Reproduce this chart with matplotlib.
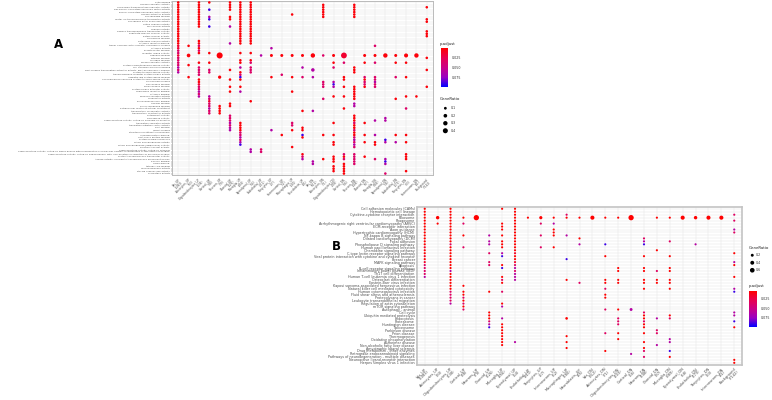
import numpy as np
import matplotlib
matplotlib.use("Agg")
import matplotlib.pyplot as plt
from matplotlib.colors import LinearSegmentedColormap, Normalize
from matplotlib.cm import ScalarMappable

# cluster columns (same for both panels)
x_labels = ["Vas_UP\n(1083)", "Astrocytes_UP\n(93)", "Oligodendrocytes_UP\n(138)", "Cortical_UP\n(38)",
            "Neurons_UP\n(79)", "Choroid_UP\n(126)", "Microglia_UP\n(456)", "Ependymal_UP\n(64)",
            "Endothelial_UP\n(211)", "Tanycytes_UP\n(27)", "Interneurons_UP\n(52)", "Macrophages_UP\n(180)",
            "Neuroblasts_UP\n(45)", "Vas_DN\n(912)", "Astrocytes_DN\n(71)", "Oligodendrocytes_DN\n(203)",
            "Cortical_DN\n(66)", "Neurons_DN\n(148)", "Choroid_DN\n(97)", "Microglia_DN\n(389)",
            "Ependymal_DN\n(58)", "Endothelial_DN\n(173)", "Tanycytes_DN\n(33)", "Interneurons_DN\n(41)",
            "Background\n(7142)"]

# panel A: GO molecular function terms
a_terms = ["actin binding", "GTPase regulator activity", "nucleoside-triphosphatase regulator activity",
           "Ras guanyl-nucleotide exchange factor activity", "guanyl-nucleotide exchange factor activity",
           "GTPase activator activity", "phospholipid binding", "metal ion transmembrane transporter activity",
           "phosphoric ester hydrolase activity", "cation channel activity", "ion channel activity",
           "channel activity", "passive transmembrane transporter activity", "substrate-specific channel activity",
           "gated channel activity", "calmodulin binding", "potassium channel activity",
           "cytokine receptor binding", "tumor necrosis factor receptor superfamily binding", "cytokine activity",
           "growth factor binding", "receptor ligand activity", "cadherin binding", "integrin binding",
           "collagen binding", "kinase regulator activity", "protein serine/threonine kinase activity",
           "cell adhesion molecule binding",
           "DNA-binding transcription activator activity, RNA polymerase II-specific",
           "protein tyrosine kinase activity", "transmembrane receptor protein kinase activity",
           "ubiquitin-like protein ligase binding", "non-membrane spanning protein tyrosine kinase activity",
           "SH3 domain binding", "Rho GTPase binding", "small GTPase binding", "protein kinase activator activity",
           "chemokine receptor binding", "cytokine binding", "immune receptor activity", "coreceptor activity",
           "glycosaminoglycan binding", "heparin binding", "sulfur compound binding",
           "extracellular matrix structural constituent", "transcription coregulator activity",
           "transcription coactivator activity", "antioxidant activity", "peroxidase activity",
           "oxidoreductase activity, acting on peroxide as acceptor", "translation regulator activity",
           "translation initiation factor activity", "RNA binding", "mRNA binding",
           "structural constituent of ribosome", "unfolded protein binding", "heat shock protein binding",
           "protein folding chaperone", "NADH dehydrogenase activity", "NADH dehydrogenase (ubiquinone) activity",
           "electron transfer activity", "oxidoreductase activity, acting on NAD(P)H",
           "oxidoreductase activity, acting on single donors with incorporation of molecular oxygen, incorporation of two atoms of oxygen",
           "oxidoreductase activity, acting on paired donors, with incorporation or reduction of molecular oxygen",
           "proton transmembrane transporter activity", "ATPase activity, coupled to transmembrane movement of ions",
           "iron ion binding", "heme binding", "tetrapyrrole binding", "monooxygenase activity",
           "steroid hydroxylase activity", "aromatase activity"]

# panel B: KEGG pathways
b_terms = ["Cell adhesion molecules (CAMs)", "Hematopoietic cell lineage", "Cytokine-cytokine receptor interaction",
           "Ribosome", "Phagosome", "Arrhythmogenic right ventricular cardiomyopathy (ARVC)",
           "ECM-receptor interaction", "Axon guidance", "Hypertrophic cardiomyopathy (HCM)",
           "NF-kappa B signaling pathway", "Dilated cardiomyopathy (DCM)", "Focal adhesion",
           "Phospholipase D signaling pathway", "Human papillomavirus infection", "Chemokine signaling pathway",
           "C-type lectin receptor signaling pathway",
           "Viral protein interaction with cytokine and cytokine receptor", "Breast cancer",
           "MAPK signaling pathway", "Apoptosis", "B cell receptor signaling pathway",
           "Inflammatory bowel disease (IBD)", "Th17 cell differentiation",
           "Human T-cell leukemia virus 1 infection", "Osteoclast differentiation",
           "Epstein-Barr virus infection", "Kaposi sarcoma-associated herpesvirus infection",
           "Natural killer cell mediated cytotoxicity", "Human cytomegalovirus infection",
           "Fluid shear stress and atherosclerosis", "Proteoglycans in cancer",
           "Leukocyte transendothelial migration", "Regulation of actin cytoskeleton", "mTOR signaling pathway",
           "Autophagy - animal", "Cell cycle", "Ubiquitin mediated proteolysis", "Endocytosis", "Proteasome",
           "Huntington disease", "Spliceosome", "Parkinson disease", "Prion disease", "Thermogenesis",
           "Oxidative phosphorylation", "Alzheimer disease", "Non-alcoholic fatty liver disease",
           "Amyotrophic lateral sclerosis", "Drug metabolism - other enzymes",
           "Retrograde endocannabinoid signaling", "Pathways of neurodegeneration - multiple diseases",
           "Neuroactive ligand-receptor interaction", "Herpes simplex virus 1 infection"]

# p.adjust classes
p_code = {"r": 0.003, "R": 0.015, "m": 0.035, "p": 0.062, "b": 0.09}

# one string per column, one char per term ('.' = not enriched)
E = "............"
a_dots = [
    "rrrrrrrrrrrr" "rrrrrrRRmmRm" "mmmpmp......" + E + E + E,
    E + "......r...r." "..r....r...." + E + E + E,
    "rrrrrrrrrrr." "....rrmrmr.." ".r.mmmm.rrRm" "mpmp........" + E + E,
    "r..b..pb..b." ".........r.." ".r..mm......" "...pmRmmpmm." + E + E,
    E + "..........r." ".......r...." ".......rrrr." + E + E,
    "rrrr..rr..p." ".....p......" "....r...r..r" ".r....rr...m" "mmpmpp......" + E,
    "rrrrrrrrrrrr" "rrrrrr...r.." "rr.p.rmbr..r" ".p.........." "..rrrrmmpmpb" + E,
    "rrrrrrrrrrrr" "rrrrrr...r.." "rm.mmm......" ".....r......" + E + ".pp.........",
    E + "..........p." + E + E + E + ".mm.........",
    E + ".......p..r." ".......r...." + E + ".....p......" + E,
    E + "..........r." "......m....." + E + ".......r...." + E,
    ".....r......" "..........r." ".......r...." ".r.........." "..mm.r......" "r...........",
    E + "..........r." "...p...m...." ".........r.." "....rr.br..." "...rmp......",
    E + "..........r." "....p..p...." ".........p.." + E + "......pp....",
    ".rrrrrr....." "..........m." ".........mmm" "....m......." ".......r...." ".....r......",
    E + "..........r." ".r.m.....pbp" "...r........" "..r....r..rr" "....rrr.rrr.",
    E + "..........R." ".m.....rr..r" "...r....r..." + E + "...mrm.rrrrr",
    ".rrrrrr....." + E + "...rrr.....r" "rrrrr.pp...r" "rrmrrmrrmpmp" "m..mmmmm....",
    E + "..........r." ".r.....mrmmr" + E + "..r....r..r." "....r.......",
    E + "......m...r." ".m.....mmpmm" + E + ".p.....p..rr" ".....m......",
    E + "..........r." + E + E + "pp.......bp." ".....pbp...m",
    E + "..........r." ".r.....m...." "....r......." ".......r..p." + E,
    E + "..........r." ".r.....r...." "...r....m..." ".......r..r." "...rrr....r.",
    E + "..........r." + E + "...r........" + E + E,
    "..r....rr..." "rrr........r" "....r......r" + E + E + E,
]
b_dots = [
    "rrrrrrrrrrrr" "rRrrRrRmmmmp" + E + E + ".....",
    "...r.r......" + E + E + E + ".....",
    "rrrrrrrrrrrr" "mrrrrrrrrprr" "rrrrmmmmp..." + E + ".....",
    "...r.m...r.." ".m.........." "..r.rrmrmrm." + E + ".....",
    "...r........" + E + E + E + ".....",
    ".........p.p" "p..m..mm...." "....r......r" "rrmpb......." ".....",
    "r....rrr.r.r" "rr.pb..rb..r" "mr..m...rp.." ".p.rrrrrrrr." ".....",
    "rrrrrrrrrrrr" "rrrRrrRmpmpp" "p..........." ".........p.." ".....",
    "...r........" + E + E + E + ".....",
    "...r.m...m.." ".m.........." + E + E + ".....",
    "...r.p.rrr.." ".r.........." + E + E + ".....",
    "..mr.....p.." ".....b......" "r..........." ".r.....r.r.r" ".....",
    "...r......r." "p..........." ".m.........." + E + ".....",
    "...r........" + E + E + E + ".....",
    "...r........" "b...r......." "rr.m.rr...m." "......m....." "r....",
    "...r........" "........rr.." "rr........r." ".mmm..r.r..." ".....",
    "...r........" + E + "..........p." + E + ".p...",
    "..........mp" "b...r...rr.." "rr.r.......m" "rrmrr.r..r.r" "m.m..",
    "...r........" "..r......m.." "rr.........." ".p...mm...p." ".....",
    "...r.......m" "....r...rr.." "rr.r........" "rm......pp.." "b.r..",
    "...r........" + E + E + E + ".....",
    "...r........" "p..........." + E + E + ".....",
    "...r........" + E + E + E + ".....",
    "...r........" + E + E + E + ".....",
    "..m.m..pm..." "...r..pr...r" "...pb......p" "p.b.r......." "...rr",
]

# GeneRatio of the larger dots, (column, term) -> ratio; all others are small
a_ratio = {(1, 22): 0.2, (4, 22): 0.6, (4, 31): 0.15, (9, 22): 0.12, (10, 22): 0.12, (11, 22): 0.12,
           (12, 22): 0.12, (13, 22): 0.3, (13, 28): 0.18, (15, 22): 0.12, (16, 22): 0.55, (18, 22): 0.12,
           (19, 22): 0.12, (20, 22): 0.3, (21, 22): 0.12, (22, 22): 0.25, (23, 22): 0.3}
b_ratio = {(1, 3): 0.3, (4, 3): 0.8, (9, 3): 0.25, (13, 3): 0.45, (16, 3): 0.8, (20, 3): 0.45,
           (21, 3): 0.3, (22, 3): 0.45, (23, 3): 0.45, (16, 34): 0.2, (11, 37): 0.15}
small_ratio = 0.08

a_size_breaks = [0.1, 0.2, 0.3, 0.4]
b_size_breaks = [0.2, 0.4, 0.6]
p_breaks = [0.025, 0.050, 0.075]

cmap = LinearSegmentedColormap.from_list("padj", ["#FF0000", "#E80050", "#CA0088", "#9A00C2", "#0000FF"])
W, H = 772, 400


def fbox(x0, y0, x1, y1):
    # pixel box (top-left origin) -> figure fraction rect
    return [x0 / W, 1 - y1 / H, (x1 - x0) / W, (y1 - y0) / H]


def dot_panel(ax, cols, ratios, terms, norm, k, fs_y, fs_x, spine_c, spine_w):
    assert all(len(c) == len(terms) for c in cols), [len(c) for c in cols]
    xs, ys, rr, pv = [], [], [], []
    for ci, col in enumerate(cols):
        for ri, ch in enumerate(col):
            if ch == ".":
                continue
            xs.append(ci)
            ys.append(ri)
            rr.append(ratios.get((ci, ri), small_ratio))
            pv.append(p_code[ch])
    ax.scatter(xs, ys, s=1 + k * np.array(rr), c=pv, cmap=cmap, norm=norm,
               edgecolors="none", zorder=3)
    ax.set_xticks(range(len(cols)))
    ax.set_xticklabels(x_labels, rotation=45, ha="right", va="top", rotation_mode="anchor",
                       fontsize=fs_x, color="#4D4D4D", linespacing=0.95)
    ax.set_yticks(range(len(terms)))
    ax.set_yticklabels(terms, fontsize=fs_y, color="#4D4D4D")
    ax.set_xlim(-0.6, len(cols) - 0.4)
    ax.set_ylim(len(terms) - 0.4, -0.6)
    ax.grid(True, color="#E6E6E6", lw=0.35)
    ax.set_axisbelow(True)
    ax.tick_params(length=1.0, width=0.3, pad=0.6, color="#555555")
    for s in ax.spines.values():
        s.set_color(spine_c)
        s.set_linewidth(spine_w)


def colorbar(fig, rect, norm, fs):
    cax = fig.add_axes(rect)
    cb = fig.colorbar(ScalarMappable(norm=norm, cmap=cmap), cax=cax, ticks=p_breaks)
    cax.invert_yaxis()
    cb.outline.set_visible(False)
    cb.set_ticklabels(["%.3f" % v for v in p_breaks])
    cax.tick_params(labelsize=fs, length=1.5, width=0.3, color="white", pad=1, labelcolor="#333333")


def size_legend(fig, rect, breaks, k, fs):
    lax = fig.add_axes(rect)
    lax.set_axis_off()
    n = len(breaks)
    lax.scatter(np.full(n, 0.2), np.arange(n), s=1 + k * np.array(breaks), color="black",
                edgecolors="none")
    for i, b in enumerate(breaks):
        lax.text(1.0, i, "%.1f" % b, fontsize=fs, va="center", ha="left", color="#333333")
    lax.set_xlim(-0.5, 4)
    lax.set_ylim(n - 0.5, -0.5)


fig = plt.figure(figsize=(W / 100, H / 100), dpi=100)
fig.patch.set_facecolor("white")

# ---- panel A
norm_a = Normalize(0.0, 0.1)
ax_a = fig.add_axes(fbox(172, 1, 433, 175))
dot_panel(ax_a, a_dots, a_ratio, a_terms, norm_a, 30, 1.7, 2.0, "#BBBBBB", 0.7)
fig.text(58 / W, 1 - 44 / H, "A", fontsize=8.5, fontweight="bold", ha="center", va="center")
fig.text(440 / W, 1 - 44 / H, "p.adjust", fontsize=2.8, ha="left", va="center", color="#222222")
colorbar(fig, fbox(441, 48, 448, 87), norm_a, 2.3)
fig.text(440 / W, 1 - 99 / H, "GeneRatio", fontsize=2.8, ha="left", va="center", color="#222222")
size_legend(fig, fbox(441, 104.5, 469, 134.5), a_size_breaks, 30, 2.3)

# ---- panel B
norm_b = Normalize(0.004, 0.099)
ax_b = fig.add_axes(fbox(417, 207, 742, 364.6))
dot_panel(ax_b, b_dots, b_ratio, b_terms, norm_b, 17, 2.45, 2.6, "#C4C4C4", 1.2)
fig.text(336 / W, 1 - 246 / H, "B", fontsize=8.5, fontweight="bold", ha="center", va="center")
fig.text(749 / W, 1 - 248 / H, "GeneRatio", fontsize=2.8, ha="left", va="center", color="#222222")
size_legend(fig, fbox(749, 251.5, 770, 274), b_size_breaks, 17, 2.3)
fig.text(749 / W, 1 - 286 / H, "p.adjust", fontsize=2.8, ha="left", va="center", color="#222222")
colorbar(fig, fbox(749, 291, 757, 327), norm_b, 2.3)

fig.savefig("out.png", dpi=100)
